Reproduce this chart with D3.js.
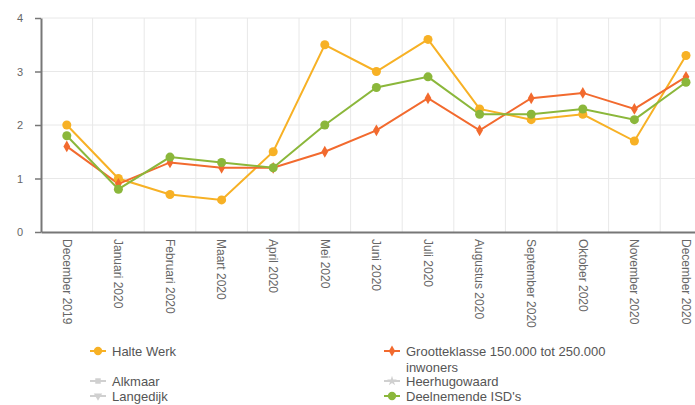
<!DOCTYPE html>
<html>
<head>
<meta charset="utf-8">
<script src="https://cdn.jsdelivr.net/npm/d3@7"></script>
<style>
  body { margin: 0; background: #fff; overflow: hidden; }
  svg { font-family: "Liberation Sans", Arial, sans-serif; display: block; }
  .grid line { stroke: #e8e8e8; stroke-width: 1; }
  .axis text { fill: #666; font-size: 11px; }
  .x-axis text { font-size: 12px; }
  .legend text { font-size: 13px; fill: #555; }
</style>
</head>
<body>
<div id="chart"></div>
<script>
// month categories
const months = ["December 2019", "Januari 2020", "Februari 2020", "Maart 2020", "April 2020",
  "Mei 2020", "Juni 2020", "Juli 2020", "Augustus 2020", "September 2020",
  "Oktober 2020", "November 2020", "December 2020"];

// series values
const halteWerk = [2.0, 1.0, 0.7, 0.6, 1.5, 3.5, 3.0, 3.6, 2.3, 2.1, 2.2, 1.7, 3.3];
const grootteklasse = [1.6, 0.9, 1.3, 1.2, 1.2, 1.5, 1.9, 2.5, 1.9, 2.5, 2.6, 2.3, 2.9];
const deelnemende = [1.8, 0.8, 1.4, 1.3, 1.2, 2.0, 2.7, 2.9, 2.2, 2.2, 2.3, 2.1, 2.8];

const yTicks = [0, 1, 2, 3, 4];

const series = [
  { name: "Halte Werk", values: halteWerk, color: "#f7b125", symbol: d3.symbolCircle, size: 64 },
  { name: "Grootteklasse 150.000 tot 250.000 inwoners", values: grootteklasse, color: "#f26a2e", symbol: d3.symbolDiamond, size: 40 },
  { name: "Deelnemende ISD's", values: deelnemende, color: "#8bb73b", symbol: d3.symbolCircle, size: 64 }
];

const width = 695, height = 405;
const margin = { top: 18, left: 41, bottom: 232 };
// the plot is wider than the window, the last band is cut off on the right
const plotRight = margin.left + 13 * 51.6;

const svg = d3.select("#chart").append("svg")
  .attr("width", width)
  .attr("height", height);

const x = d3.scaleBand().domain(months).range([margin.left, plotRight]);
const y = d3.scaleLinear().domain([0, 4]).range([margin.bottom, margin.top]);

// grid
const grid = svg.append("g").attr("class", "grid");
grid.selectAll(".h").data(yTicks.filter(d => d > 0)).enter().append("line")
  .attr("x1", margin.left).attr("x2", plotRight)
  .attr("y1", d => y(d)).attr("y2", d => y(d));
grid.selectAll(".v").data(months.slice(1)).enter().append("line")
  .attr("x1", d => x(d)).attr("x2", d => x(d))
  .attr("y1", y(4)).attr("y2", y(0));

// y axis
const yAxis = svg.append("g").attr("class", "axis")
  .attr("transform", `translate(${margin.left},0)`)
  .call(d3.axisLeft(y).tickValues(yTicks).tickFormat(d3.format("d")).tickSize(6).tickSizeOuter(0).tickPadding(12));
yAxis.select(".domain").attr("stroke", "#777").attr("stroke-width", 2);
yAxis.selectAll(".tick line").attr("stroke", "#777").attr("stroke-width", 1.5);

// x axis
const xAxis = svg.append("g").attr("class", "axis x-axis")
  .attr("transform", `translate(0,${y(0)})`)
  .call(d3.axisBottom(x).tickSize(0).tickSizeOuter(0).tickPadding(0));
xAxis.select(".domain").attr("stroke", "#777").attr("stroke-width", 2);
xAxis.selectAll(".tick text")
  .attr("transform", "rotate(90)")
  .attr("text-anchor", "start")
  .attr("x", 7)
  .attr("y", 0)
  .attr("dy", "0.35em");

// lines
const line = d3.line()
  .x((d, i) => x(months[i]) + x.bandwidth() / 2)
  .y(d => y(d));

series.forEach(s => {
  svg.append("path")
    .datum(s.values)
    .attr("fill", "none")
    .attr("stroke", s.color)
    .attr("stroke-width", 2)
    .attr("d", line);
});

series.forEach(s => {
  svg.selectAll(null).data(s.values).enter().append("path")
    .attr("d", d3.symbol().type(s.symbol).size(s.size))
    .attr("transform", (d, i) => `translate(${x(months[i]) + x.bandwidth() / 2},${y(d)})`)
    .attr("fill", s.color);
});

// legend
const legendItems = [
  { name: "Halte Werk", color: "#f7b125", symbol: d3.symbolCircle, size: 55, x: 98, y: 351, active: true },
  { name: ["Grootteklasse 150.000 tot 250.000", "inwoners"], color: "#f26a2e", symbol: d3.symbolDiamond, size: 35, x: 392, y: 351, active: true },
  { name: "Alkmaar", color: "#d0d0d0", symbol: d3.symbolSquare, size: 30, x: 98, y: 381, active: false },
  { name: "Langedijk", color: "#d0d0d0", symbol: d3.symbolTriangle, size: 30, x: 98, y: 396, active: false, rotate: 180 },
  { name: "Heerhugowaard", color: "#d0d0d0", symbol: d3.symbolStar, size: 30, x: 392, y: 381, active: false },
  { name: "Deelnemende ISD's", color: "#8bb73b", symbol: d3.symbolCircle, size: 55, x: 392, y: 396, active: true }
];

const legend = svg.append("g").attr("class", "legend");
legendItems.forEach(it => {
  const g = legend.append("g").attr("transform", `translate(${it.x},${it.y})`);
  g.append("line").attr("x1", -8).attr("x2", 8).attr("stroke", it.color).attr("stroke-width", 2);
  g.append("path")
    .attr("d", d3.symbol().type(it.symbol).size(it.size))
    .attr("transform", it.rotate ? `rotate(${it.rotate})` : null)
    .attr("fill", it.color);
  const t = g.append("text").attr("x", 14)
    .attr("fill", it.active ? "#555" : "#ccc");
  const lines = Array.isArray(it.name) ? it.name : [it.name];
  lines.forEach((l, i) => t.append("tspan").attr("x", 14).attr("dy", i === 0 ? "0.35em" : "16px").text(l));
});
</script>
</body>
</html>
